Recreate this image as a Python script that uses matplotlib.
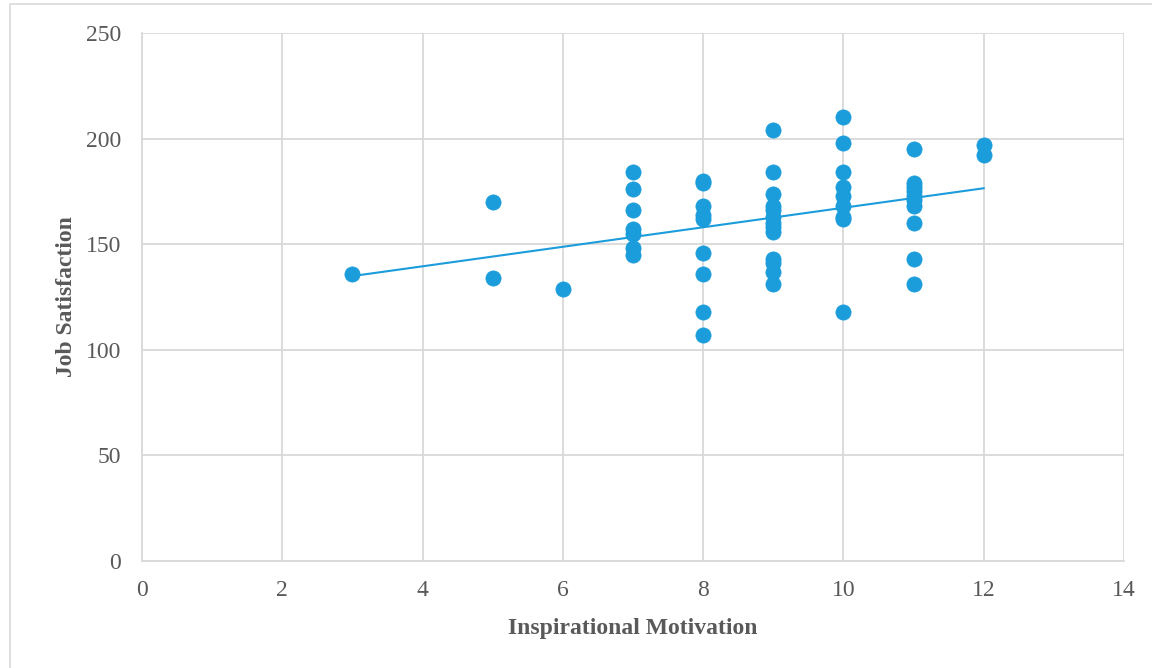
import numpy as np
import matplotlib
matplotlib.use("Agg")
import matplotlib.pyplot as plt
from matplotlib.patches import Rectangle

# Inspirational Motivation scores and Job Satisfaction scores
motivation_levels = [3, 5, 6, 7, 8, 9, 10, 11, 12]
satisfaction_by_level = [
    [136],
    [170, 134],
    [129],
    [184, 176, 166, 157, 155, 148, 145],
    [180, 179, 168, 164, 162, 146, 136, 118, 107],
    [204, 184, 174, 168, 166, 163, 160, 158, 156, 143, 141, 137, 131],
    [210, 198, 184, 177, 173, 168, 163, 162, 118],
    [195, 179, 177, 175, 173, 171, 168, 160, 143, 131],
    [197, 192],
]

x_ticks = [0, 2, 4, 6, 8, 10, 12, 14]
y_ticks = [0, 50, 100, 150, 200, 250]

title = "Figure 2. Scatterplot of Regression between Inspirational Motivation and Job Satisfaction"

point_color = "#1b9cdb"
grid_color = "#d9d9d9"
text_color = "#595959"

plt.rcParams['font.family'] = ['Liberation Serif', 'DejaVu Serif']

x = []
y = []
for level, vals in zip(motivation_levels, satisfaction_by_level):
    for v in vals:
        x.append(level)
        y.append(v)
x = np.array(x, dtype=float)
y = np.array(y, dtype=float)

fig = plt.figure(figsize=(11.52, 6.68), dpi=100)
ax = fig.add_axes([142 / 1152, 1 - 561 / 668, (1124 - 142) / 1152, (561 - 33) / 668])

# outer frame of the chart object
fig.patches.append(Rectangle((10 / 1152, -0.05), 1.2, 1 - 4 / 668 + 0.05,
                             transform=fig.transFigure, fill=False,
                             edgecolor=grid_color, linewidth=1.2))

# caption sitting above, mostly cut off by the page
fig.text(4 / 1152, 1 + 4 / 668, title, ha='left', va='baseline',
         fontsize=14, fontweight='bold', fontstyle='italic', color='black')

ax.scatter(x, y, s=120, color=point_color, edgecolors=point_color, linewidths=0.5, zorder=3)

# linear trendline
slope, intercept = np.polyfit(x, y, 1)
xl = np.array([x.min(), x.max()])
ax.plot(xl, intercept + slope * xl, color=point_color, linewidth=1.5, zorder=2)

ax.set_xlim(0, 14)
ax.set_ylim(0, 250)
ax.set_xticks(x_ticks)
ax.set_yticks(y_ticks)
ax.grid(True, color=grid_color, linewidth=1.3, zorder=0)
ax.set_axisbelow(True)
for side in ['top', 'right']:
    ax.spines[side].set_visible(False)
for side in ['left', 'bottom']:
    ax.spines[side].set_color(grid_color)
    ax.spines[side].set_linewidth(1.3)
ax.tick_params(axis='both', length=0, labelsize=17, labelcolor=text_color)
ax.tick_params(axis='y', pad=15)
ax.tick_params(axis='x', pad=14)

ax.set_xlabel('Inspirational Motivation', fontsize=17, fontweight='bold', color=text_color, labelpad=12)
ax.set_ylabel('Job Satisfaction', fontsize=17, fontweight='bold', color=text_color, labelpad=6)

fig.savefig('out.png', dpi=100)
